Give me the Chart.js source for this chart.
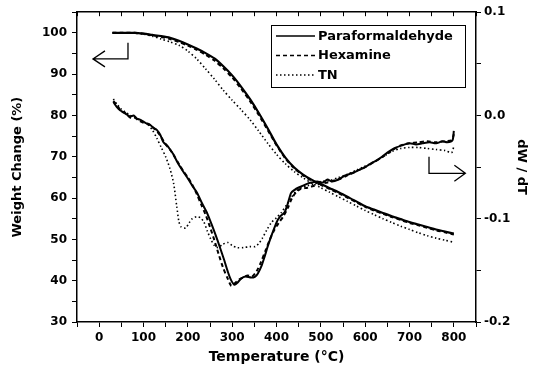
<!DOCTYPE html>
<html>
<head>
<meta charset="utf-8">
<script src="https://cdn.jsdelivr.net/npm/chart.js"></script>
<style>
  html, body { margin: 0; padding: 0; background: #fff; }
  canvas { display: block; }
</style>
</head>
<body>
<canvas id="canvas" width="535" height="384"></canvas>
<script>
// TG curves (left axis, %)
var tgTemp = [30, 50, 80, 100, 120, 140, 160, 180, 200, 220, 240, 260, 280, 300, 320, 340, 360, 380, 400, 420, 440, 460, 480, 500, 520, 540, 560, 580, 600, 620, 640, 660, 680, 700, 720, 740, 760, 780, 800];
var tgPara = [100.0, 100.0, 100.0, 99.8, 99.5, 99.2, 98.8, 98.1, 97.2, 96.2, 95.1, 93.8, 91.9, 89.7, 87.0, 84.0, 80.6, 76.9, 73.0, 69.8, 67.4, 65.7, 64.4, 63.4, 62.4, 61.4, 60.3, 59.2, 58.0, 57.2, 56.4, 55.6, 54.9, 54.2, 53.6, 53.0, 52.4, 51.9, 51.4];
var tgHex = [100.0, 100.0, 100.0, 99.8, 99.4, 99.0, 98.5, 97.8, 96.9, 95.9, 94.7, 93.3, 91.4, 89.2, 86.5, 83.5, 80.1, 76.5, 72.8, 69.6, 67.2, 65.5, 64.2, 63.2, 62.2, 61.2, 60.1, 59.0, 57.9, 57.0, 56.2, 55.4, 54.7, 54.0, 53.4, 52.8, 52.2, 51.7, 51.2];
var tgTN = [100.0, 100.0, 99.9, 99.7, 99.2, 98.5, 97.8, 97.0, 95.6, 93.7, 91.3, 88.8, 86.1, 83.7, 81.4, 79.0, 76.2, 73.3, 70.6, 68.3, 66.4, 64.9, 63.6, 62.5, 61.4, 60.3, 59.2, 58.1, 57.0, 56.0, 55.0, 54.1, 53.2, 52.4, 51.6, 50.9, 50.3, 49.8, 49.3];

// DTG curves (right axis, dW/dT)
var dtgParaTemp = [32, 40, 47, 55, 62, 70, 78, 85, 92, 100, 108, 115, 122, 130, 138, 145, 153, 160, 168, 175, 183, 192, 200, 210, 221, 232, 244, 255, 267, 282, 290, 297, 305, 312, 320, 330, 343, 352, 358, 366, 373, 380, 388, 395, 403, 410, 418, 425, 433, 441, 449, 460, 470, 479, 492, 505, 515, 525, 540, 555, 570, 585, 600, 615, 628, 638, 650, 665, 683, 700, 715, 729, 745, 760, 774, 785, 797, 800];
var dtgPara = [0.013, 0.008, 0.005, 0.003, 0.001, -0.001, 0.000, -0.003, -0.004, -0.006, -0.008, -0.009, -0.012, -0.014, -0.019, -0.026, -0.029, -0.033, -0.038, -0.044, -0.050, -0.056, -0.061, -0.068, -0.075, -0.085, -0.095, -0.107, -0.121, -0.140, -0.151, -0.159, -0.164, -0.162, -0.158, -0.156, -0.157, -0.156, -0.153, -0.146, -0.137, -0.127, -0.117, -0.109, -0.101, -0.097, -0.094, -0.086, -0.075, -0.072, -0.070, -0.068, -0.066, -0.065, -0.064, -0.065, -0.062, -0.064, -0.062, -0.058, -0.056, -0.053, -0.050, -0.046, -0.043, -0.040, -0.036, -0.032, -0.029, -0.027, -0.028, -0.027, -0.026, -0.027, -0.025, -0.026, -0.024, -0.015];

var dtgHexTemp = [32, 40, 50, 60, 70, 80, 90, 100, 110, 120, 130, 140, 150, 160, 170, 180, 190, 200, 210, 220, 230, 240, 250, 260, 270, 280, 290, 298, 305, 315, 325, 335, 345, 355, 365, 375, 385, 395, 405, 415, 425, 435, 445, 455, 470, 485, 500, 515, 530, 545, 560, 580, 600, 620, 640, 660, 680, 700, 720, 740, 760, 780, 795, 800];
var dtgHex = [0.014, 0.010, 0.004, 0.002, -0.002, -0.002, -0.005, -0.007, -0.008, -0.011, -0.015, -0.021, -0.028, -0.033, -0.040, -0.047, -0.054, -0.060, -0.067, -0.076, -0.086, -0.096, -0.108, -0.121, -0.135, -0.148, -0.158, -0.165, -0.163, -0.159, -0.157, -0.155, -0.156, -0.151, -0.142, -0.131, -0.120, -0.111, -0.104, -0.098, -0.090, -0.080, -0.074, -0.071, -0.070, -0.068, -0.066, -0.065, -0.063, -0.061, -0.058, -0.054, -0.050, -0.045, -0.040, -0.034, -0.029, -0.027, -0.026, -0.025, -0.026, -0.025, -0.024, -0.018];

var dtgTNTemp = [32, 40, 50, 60, 70, 80, 90, 100, 110, 120, 130, 140, 150, 160, 168, 175, 180, 185, 195, 203, 210, 220, 228, 236, 244, 252, 260, 268, 278, 290, 300, 312, 325, 340, 352, 360, 368, 378, 388, 400, 411, 422, 434, 445, 456, 470, 485, 500, 520, 540, 560, 580, 600, 620, 640, 660, 680, 700, 720, 740, 760, 780, 795, 800];
var dtgTN = [0.016, 0.011, 0.006, 0.003, 0.000, -0.002, -0.004, -0.006, -0.009, -0.014, -0.022, -0.031, -0.040, -0.052, -0.066, -0.088, -0.103, -0.108, -0.109, -0.104, -0.100, -0.098, -0.099, -0.103, -0.112, -0.120, -0.126, -0.128, -0.125, -0.123, -0.126, -0.128, -0.128, -0.127, -0.127, -0.124, -0.119, -0.111, -0.104, -0.099, -0.094, -0.087, -0.079, -0.073, -0.070, -0.068, -0.066, -0.064, -0.063, -0.060, -0.057, -0.053, -0.049, -0.045, -0.040, -0.035, -0.032, -0.031, -0.031, -0.032, -0.033, -0.034, -0.036, -0.030];

var seriesNames = ['Paraformaldehyde', 'Hexamine', 'TN'];
var FONT = 'DejaVu Sans';

function pts(xs, ys) {
	return xs.map(function (t, i) { return { x: t, y: ys[i] }; });
}

var solid = [], dashed = [4, 3], dotted = [1.5, 2.5];

var datasets = [
	{ label: seriesNames[0], data: pts(tgTemp, tgPara), yAxisID: 'y', borderDash: solid, borderWidth: 2.2 },
	{ label: seriesNames[1], data: pts(tgTemp, tgHex), yAxisID: 'y', borderDash: dashed, borderWidth: 2 },
	{ label: seriesNames[2], data: pts(tgTemp, tgTN), yAxisID: 'y', borderDash: dotted, borderWidth: 1.6 },
	{ label: seriesNames[0], data: pts(dtgParaTemp, dtgPara), yAxisID: 'y2', borderDash: solid, borderWidth: 2 },
	{ label: seriesNames[1], data: pts(dtgHexTemp, dtgHex), yAxisID: 'y2', borderDash: dashed, borderWidth: 2 },
	{ label: seriesNames[2], data: pts(dtgTNTemp, dtgTN), yAxisID: 'y2', borderDash: dotted, borderWidth: 1.6 }
];
datasets.forEach(function (d) {
	d.borderColor = '#000';
	d.backgroundColor = '#000';
	d.pointRadius = 0;
	d.fill = false;
	d.tension = 0.25;
});

// arrows pointing to the axes (data units)
var leftArrow = { tipX: -14, cornerX: 65, y: 93.7, topY: 97.6 };
var rightArrow = { tipX: 826, cornerX: 744, y: -0.056, topY: -0.040 };

var overlay = {
	id: 'overlay',
	afterDatasetsDraw: function (chart) {
		var ctx = chart.ctx, x = chart.scales.x, y = chart.scales.y, y2 = chart.scales.y2;
		ctx.save();
		ctx.strokeStyle = '#000';
		ctx.lineWidth = 1.3;

		// left arrow
		var tx = x.getPixelForValue(leftArrow.tipX), cx = x.getPixelForValue(leftArrow.cornerX);
		var ay = y.getPixelForValue(leftArrow.y), ty = y.getPixelForValue(leftArrow.topY);
		ctx.beginPath();
		ctx.moveTo(cx, ty); ctx.lineTo(cx, ay); ctx.lineTo(tx, ay);
		ctx.moveTo(tx + 12, ay - 8); ctx.lineTo(tx, ay); ctx.lineTo(tx + 12, ay + 8);
		ctx.stroke();

		// right arrow
		tx = x.getPixelForValue(rightArrow.tipX); cx = x.getPixelForValue(rightArrow.cornerX);
		ay = y2.getPixelForValue(rightArrow.y); ty = y2.getPixelForValue(rightArrow.topY);
		ctx.beginPath();
		ctx.moveTo(cx, ty); ctx.lineTo(cx, ay); ctx.lineTo(tx, ay);
		ctx.moveTo(tx - 11, ay - 8); ctx.lineTo(tx, ay); ctx.lineTo(tx - 11, ay + 8);
		ctx.stroke();

		// legend box
		var bx = 271, by = 25, bw = 194, bh = 62;
		ctx.fillStyle = '#fff';
		ctx.fillRect(bx, by, bw, bh);
		ctx.lineWidth = 1;
		ctx.strokeRect(bx + 0.5, by + 0.5, bw, bh);
		ctx.font = 'bold 13px "' + FONT + '"';
		ctx.textBaseline = 'middle';
		ctx.fillStyle = '#000';
		for (var i = 0; i < 3; i++) {
			var ds = chart.data.datasets[i];
			var ly = by + 11 + i * 19.5;
			ctx.beginPath();
			ctx.lineWidth = i === 2 ? 1.4 : 1.6;
			ctx.setLineDash(ds.borderDash);
			ctx.moveTo(bx + 5, ly); ctx.lineTo(bx + 44, ly);
			ctx.stroke();
			ctx.setLineDash([]);
			ctx.fillText(ds.label, bx + 47, ly + 0.5);
		}
		ctx.restore();
	}
};

var tickFont = { family: FONT, size: 12, weight: 'bold' };
var titleFont = { family: FONT, size: 13, weight: 'bold' };
var gridOpts = { drawOnChartArea: false, color: '#000', tickLength: 5, lineWidth: 1 };
var borderOpts = { color: '#000', width: 1.5 };

window.onload = function () {
	var ctx = document.getElementById('canvas').getContext('2d');
	window.myChart = new Chart(ctx, {
		type: 'line',
		data: { datasets: datasets },
		plugins: [overlay],
		options: {
			responsive: false,
			animation: false,
			devicePixelRatio: 1,
			layout: { padding: 0 },
			plugins: { legend: { display: false }, tooltip: { enabled: false } },
			scales: {
				x: {
					type: 'linear', position: 'bottom', min: -50, max: 850,
					ticks: {
						stepSize: 50, autoSkip: false, maxRotation: 0, padding: 4, color: '#000', font: tickFont,
						callback: function (v) { return (v >= 0 && v <= 800 && v % 100 === 0) ? String(v) : ''; }
					},
					grid: gridOpts, border: borderOpts,
					title: { display: true, text: 'Temperature (°C)', color: '#000', font: { family: FONT, size: 14, weight: 'bold' }, padding: { top: 0, bottom: 18 } },
					afterFit: function (s) { s.height = 62; }
				},
				xTop: {
					type: 'linear', position: 'top', min: -50, max: 850,
					ticks: { display: false, stepSize: 50 },
					grid: { drawOnChartArea: false, color: '#000', tickLength: -4, lineWidth: 1 },
					border: borderOpts,
					afterFit: function (s) { s.height = 12; }
				},
				y: {
					position: 'left', min: 30, max: 105,
					ticks: {
						stepSize: 5, autoSkip: false, padding: 5, color: '#000', font: tickFont,
						callback: function (v) { return (v % 10 === 0 && v <= 100) ? String(v) : ''; }
					},
					grid: gridOpts, border: borderOpts,
					title: { display: true, text: 'Weight Change (%)', color: '#000', font: titleFont, padding: { top: 10, bottom: 0 } },
					afterFit: function (s) { s.width = 77; }
				},
				y2: {
					position: 'right', min: -0.2, max: 0.1,
					ticks: {
						stepSize: 0.05, autoSkip: false, padding: 3, color: '#000', font: tickFont,
						callback: function (v) { var k = Math.round(v * 20); return k % 2 === 0 ? (k / 20).toFixed(1) : ''; }
					},
					grid: gridOpts, border: borderOpts,
					title: { display: true, text: 'dW / dT', color: '#000', font: titleFont, padding: { top: 6, bottom: 0 } },
					afterFit: function (s) { s.width = 59; }
				}
			}
		}
	});
};
</script>
</body>
</html>
